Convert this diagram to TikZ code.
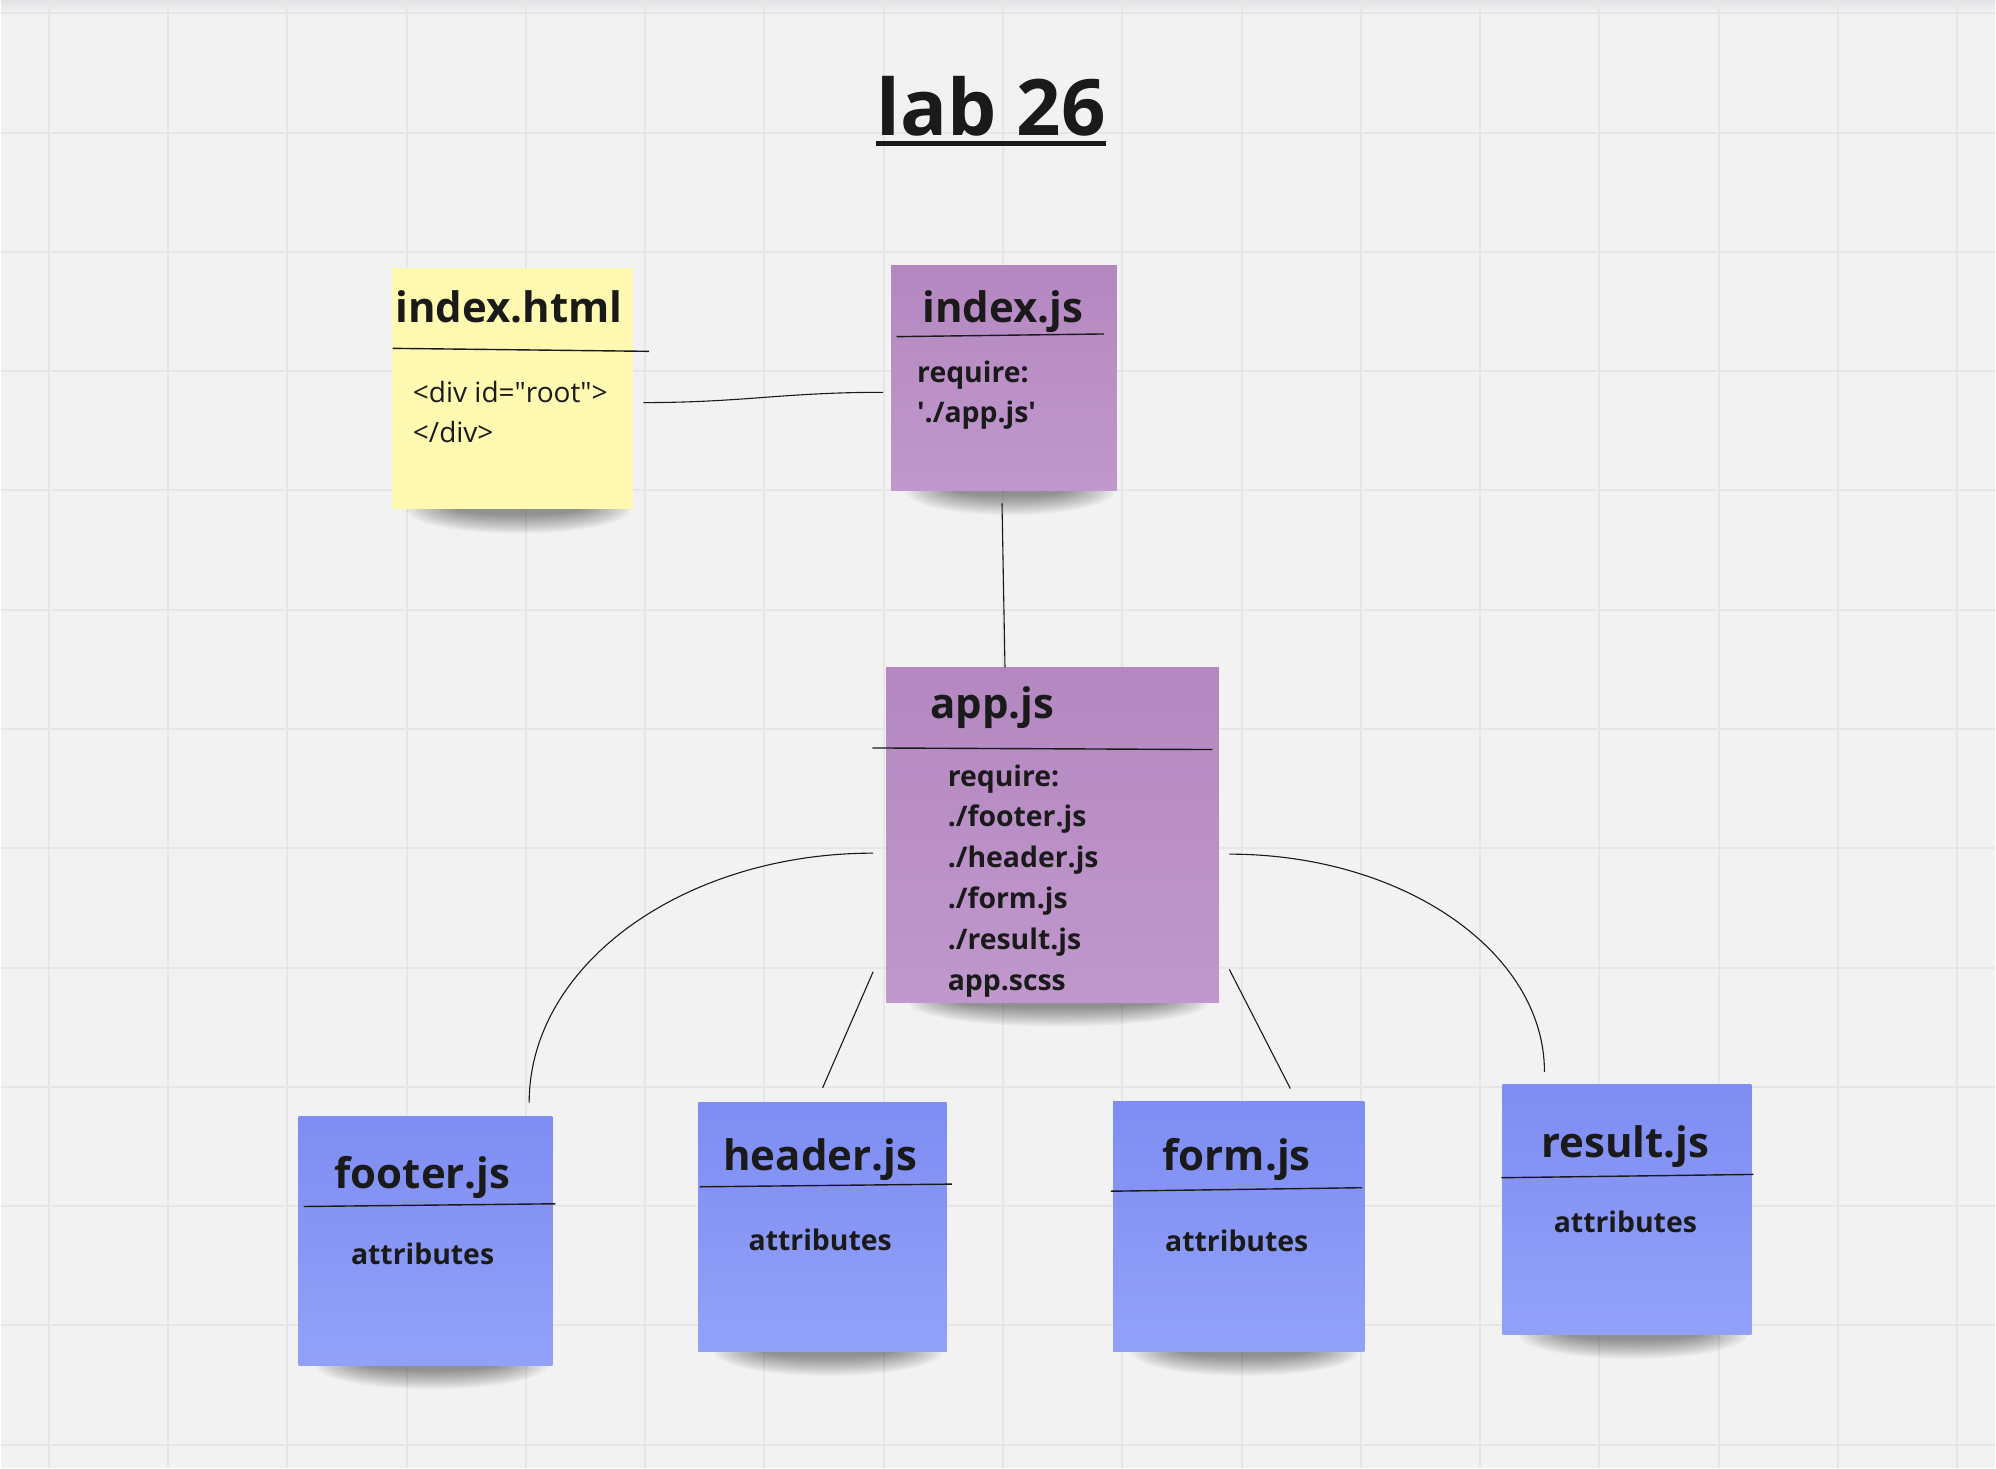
\documentclass[tikz,border=0pt]{standalone}
\usepackage{fontspec}
\setmainfont{Open Sans}
\usetikzlibrary{calc}
\definecolor{BoardGrey}{HTML}{F2F2F2}
\definecolor{BoardEdge}{HTML}{E4E4E7}
\definecolor{GridGrey}{HTML}{E6E6E6}
\definecolor{Ink}{HTML}{1A1A1A}
\definecolor{StickyYellow}{HTML}{FFF9B1}
\definecolor{VioletTop}{HTML}{B487C0}
\definecolor{VioletBot}{HTML}{C098CC}
\definecolor{BlueTop}{HTML}{7E8DF2}
\definecolor{BlueBot}{HTML}{92A1F8}
\pgfdeclarelayer{board}
\pgfdeclarelayer{shade}
\pgfsetlayers{board,shade,main}

\begin{document}
\begin{tikzpicture}[x=0.5pt, y=-0.5pt,
  sticky/.style={inner sep=0pt, outer sep=0pt},
  yellownote/.style={sticky, fill=StickyYellow},
  violetnote/.style={sticky, top color=VioletTop, bottom color=VioletBot},
  bluenote/.style={sticky, top color=BlueTop, bottom color=BlueBot},
  heading/.style={inner sep=0pt, anchor=base, text=Ink,
                  font=\fontsize{21}{25}\selectfont\bfseries},
  entry/.style={inner sep=0pt, anchor=base west, text=Ink,
                font=\fontsize{14.2}{20}\selectfont\bfseries},
  code/.style={entry, font=\fontsize{14}{20}\selectfont},
  rule/.style={line width=0.7pt, Ink},
  link/.style={line width=0.55pt, Ink}]
  % board with grid
  \begin{pgfonlayer}{board}
    \fill[BoardGrey] (0,0) rectangle (1996,1468);
    \shade[top color=BoardEdge, bottom color=BoardGrey] (0,0) rectangle (1996,12);
    \foreach \gx in {0,...,16}
      \draw[GridGrey, line width=1pt] ({47.8+119.4*\gx},0) -- ++(0,1468);
    \foreach \gy in {0,...,12}
      \draw[GridGrey, line width=1pt] (0,{12.3+119.4*\gy}) -- ++(1996,0);
  \end{pgfonlayer}
  \useasboundingbox (0,0) rectangle (1996,1468);

  \node[heading, font=\fontsize{39}{47}\selectfont\bfseries] (lab) at (991,135) {lab 26};
  \draw[line width=2.5pt, Ink] ([yshift=-4pt]lab.base west) -- ([yshift=-4pt]lab.base east);

  % sticky notes
  \node[yellownote, minimum width=121pt, minimum height=121pt] (html) at (512,388) {};
  \node[violetnote, minimum width=113pt, minimum height=112.75pt] (indexjs) at (1004,377.7) {};
  \node[violetnote, minimum width=166.5pt, minimum height=167.75pt] (appjs) at (1052.5,834.7) {};
  \node[bluenote, minimum width=127pt, minimum height=124.5pt] (footer) at (425,1241) {};
  \node[bluenote, minimum width=124.25pt, minimum height=124.85pt] (header) at (822.2,1227.2) {};
  \node[bluenote, minimum width=125.65pt, minimum height=125pt] (form) at (1239,1227) {};
  \node[bluenote, minimum width=124.5pt, minimum height=125.35pt] (result) at (1627.5,1209.7) {};

  \begin{pgfonlayer}{shade}
    \foreach \n/\r in {html/112, indexjs/104, appjs/150, footer/116, header/114, form/114, result/114}
      \foreach \k in {0,...,11}
        \fill[black, opacity=.04] ([xshift=3pt]\n.south) ellipse ({\r-4.5*\k} and {24-1.7*\k});
  \end{pgfonlayer}

  % index.html
  \node[heading, anchor=base west] (htmltitle) at (394.5,322) {index.html};
  \draw[rule] (392,347.7) -- (648.5,350.7);
  \node[code] (htmlopen) at (412,401.7) {<div id=\textquotedbl root\textquotedbl>};
  \node[code] (htmlclose) at (412,441.7) {</div>};

  % index.js
  \node[heading] (indextitle) at (1003,321.7) {index.js};
  \draw[rule] (896.5,336) -- (1104,333.3);
  \node[entry] (indexreq) at (916.7,381.7) {require:};
  \node[entry] (indexapp) at (916.7,421.7) {\textquotesingle./app.js\textquotesingle};

  % app.js
  \node[heading, anchor=base west] (apptitle) at (930,718) {app.js};
  \draw[rule] (872.3,747.7) -- (1212.7,749.3);
  \foreach \t [count=\i] in {require:, ./footer.js, ./header.js, ./form.js, ./result.js, app.scss}
    \node[entry] (appline\i) at (947.3,{786+40.8*(\i-1)}) {\t};

  % components
  \foreach \n/\x/\yt/\ya in {footer/422/1188.3/1264.3, header/820/1170.7/1250.7,
                             form/1237/1170.7/1251.4, result/1626/1157.5/1232.5}{
    \node[heading] (\n title) at (\x,\yt) {\n.js};
    \node[entry, anchor=base] (\n attr) at (\x,\ya) {attributes};
  }
  \draw[rule] (303,1206.7) -- (555,1204);
  \draw[rule] (699.6,1187) -- (951.9,1184.3);
  \draw[rule] (1111,1191.4) -- (1362.5,1187.9);
  \draw[rule] (1501.8,1177.9) -- (1754,1174.6);

  % connectors
  \draw[link] ([shift={(10,14)}]html.east) .. controls +(100,0) and +(-100,0) .. ([shift={(-8,14)}]indexjs.west);
  \draw[link] ([shift={(-2,12.5)}]indexjs.south) -- ([shift={(-47.5,0)}]appjs.north);
  \draw[link] ([shift={(-13,18.3)}]appjs.west) .. controls +(-190,0) and +(0,-138) .. ([shift={(103.7,-13.8)}]footer.north);
  \draw[link] ([shift={(-13,137)}]appjs.west) -- ([shift={(0.2,-14.3)}]header.north);
  \draw[link] ([shift={(10.5,134.6)}]appjs.east) -- ([shift={(51.6,-13.4)}]form.north);
  \draw[link] ([shift={(10.5,19.3)}]appjs.east) .. controls +(174,0) and +(0,-120) .. ([shift={(-82.5,-12.5)}]result.north);
\end{tikzpicture}
\end{document}
